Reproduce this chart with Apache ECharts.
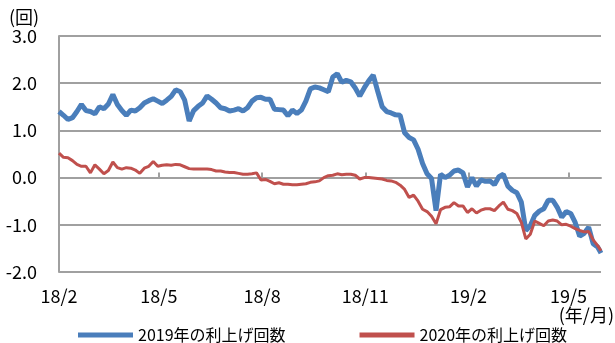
<!DOCTYPE html>
<html><head><meta charset="utf-8">
<script src="https://cdn.jsdelivr.net/npm/echarts@6/dist/echarts.min.js"></script>
<style>html,body{margin:0;padding:0;background:#fff}#c{width:615px;height:343px}</style>
</head><body><div id="c"></div>
<script>
const dates = [
'2018-02-01','2018-02-05','2018-02-09','2018-02-13','2018-02-17','2018-02-21','2018-02-25','2018-03-01','2018-03-05','2018-03-09',
'2018-03-13','2018-03-17','2018-03-21','2018-03-25','2018-03-29','2018-04-02','2018-04-06','2018-04-10','2018-04-14','2018-04-18',
'2018-04-22','2018-04-26','2018-04-30','2018-05-04','2018-05-08','2018-05-12','2018-05-16','2018-05-20','2018-05-24','2018-05-28',
'2018-06-01','2018-06-05','2018-06-09','2018-06-13','2018-06-17','2018-06-21','2018-06-25','2018-06-29','2018-07-03','2018-07-07',
'2018-07-11','2018-07-15','2018-07-19','2018-07-23','2018-07-27','2018-07-31','2018-08-04','2018-08-08','2018-08-12','2018-08-16',
'2018-08-20','2018-08-24','2018-08-28','2018-09-01','2018-09-05','2018-09-09','2018-09-13','2018-09-17','2018-09-21','2018-09-25',
'2018-09-29','2018-10-03','2018-10-07','2018-10-11','2018-10-15','2018-10-19','2018-10-23','2018-10-27','2018-10-31','2018-11-04',
'2018-11-08','2018-11-12','2018-11-16','2018-11-20','2018-11-24','2018-11-28','2018-12-02','2018-12-06','2018-12-10','2018-12-14',
'2018-12-18','2018-12-22','2018-12-26','2018-12-30','2019-01-03','2019-01-07','2019-01-11','2019-01-15','2019-01-19','2019-01-23',
'2019-01-27','2019-01-31','2019-02-04','2019-02-08','2019-02-12','2019-02-16','2019-02-20','2019-02-24','2019-02-28','2019-03-04',
'2019-03-08','2019-03-12','2019-03-16','2019-03-20','2019-03-24','2019-03-28','2019-04-01','2019-04-05','2019-04-09','2019-04-13',
'2019-04-17','2019-04-21','2019-04-25','2019-04-29','2019-05-03','2019-05-07','2019-05-11','2019-05-15','2019-05-19','2019-05-23',
'2019-05-27','2019-05-30'
];
const hikes2019 = [
1.40,1.32,1.23,1.27,1.40,1.55,1.42,1.40,1.35,1.50,
1.46,1.56,1.76,1.55,1.42,1.32,1.43,1.41,1.48,1.58,
1.63,1.67,1.62,1.57,1.64,1.72,1.86,1.82,1.64,1.20,
1.42,1.51,1.58,1.73,1.66,1.58,1.48,1.46,1.41,1.43,
1.46,1.41,1.48,1.62,1.69,1.70,1.66,1.66,1.45,1.44,
1.43,1.31,1.43,1.36,1.43,1.62,1.88,1.92,1.90,1.86,
1.82,2.13,2.20,2.02,2.06,2.03,1.90,1.73,1.90,2.05,
2.17,1.83,1.50,1.40,1.37,1.33,1.32,0.95,0.85,0.80,
0.60,0.30,0.08,-0.02,-0.70,0.07,0.00,0.05,0.14,0.16,
0.10,-0.20,0.00,-0.18,-0.05,-0.08,-0.07,-0.15,0.02,0.07,
-0.18,-0.27,-0.32,-0.52,-1.12,-1.02,-0.80,-0.71,-0.66,-0.48,
-0.48,-0.63,-0.84,-0.72,-0.76,-0.95,-1.24,-1.18,-1.05,-1.40,
-1.47,-1.60
];
const hikes2020 = [
0.52,0.43,0.42,0.36,0.28,0.24,0.24,0.10,0.27,0.18,
0.08,0.15,0.33,0.21,0.18,0.21,0.20,0.16,0.09,0.20,
0.24,0.34,0.24,0.26,0.27,0.26,0.28,0.27,0.23,0.19,
0.18,0.18,0.18,0.18,0.17,0.14,0.14,0.12,0.11,0.11,
0.09,0.07,0.07,0.08,0.10,-0.05,-0.04,-0.08,-0.13,-0.11,
-0.14,-0.14,-0.15,-0.15,-0.14,-0.13,-0.10,-0.09,-0.07,0.00,
0.04,0.05,0.08,0.06,0.07,0.07,0.05,-0.03,0.00,0.00,
-0.01,-0.02,-0.03,-0.06,-0.07,-0.10,-0.16,-0.25,-0.42,-0.37,
-0.50,-0.67,-0.72,-0.82,-0.98,-0.68,-0.63,-0.62,-0.53,-0.60,
-0.60,-0.74,-0.66,-0.75,-0.69,-0.66,-0.66,-0.70,-0.60,-0.52,
-0.67,-0.70,-0.76,-0.95,-1.30,-1.20,-0.92,-0.97,-1.02,-0.92,
-0.90,-0.92,-1.00,-0.99,-1.03,-1.08,-1.12,-1.15,-1.14,-1.32,
-1.44,-1.55
];
const seriesNames = ['2019年の利上げ回数','2020年の利上げ回数'];
const monthTicks = ['2018-02-01','2018-05-01','2018-08-01','2018-11-01','2019-02-01','2019-05-01'];
const xRange = ['2018-02-01','2019-05-30'];
const yRange = [-2, 3];

const FONT = '"Noto Sans CJK JP", "Noto Sans", sans-serif';
const GRID_C = '#a0a0a0';
const BLUE = '#4a7ebb', RED = '#c0504d';
const ts = s => { const p = s.split('-').map(Number); return Date.UTC(p[0], p[1] - 1, p[2]); };
const tickTs = monthTicks.map(ts);
const fmt = v => { const d = new Date(v); return String(d.getUTCFullYear()).slice(2) + '/' + (d.getUTCMonth() + 1); };

const chart = echarts.init(document.getElementById('c'), null, {renderer: 'canvas'});
chart.setOption({
  animation: false,
  textStyle: {fontFamily: FONT},
  grid: {left: 59, right: 14, top: 36, bottom: 71, containLabel: false},
  xAxis: [{
    type: 'value', min: ts(xRange[0]), max: ts(xRange[1]), scale: true,
    axisLine: {show: true, onZero: true, lineStyle: {color: GRID_C, width: 2}},
    axisTick: {show: true, inside: true, length: 5, customValues: tickTs, lineStyle: {color: GRID_C, width: 2}},
    axisLabel: {show: false},
    splitLine: {show: false}
  }, {
    type: 'value', min: ts(xRange[0]), max: ts(xRange[1]), scale: true, position: 'bottom',
    axisLine: {show: false, onZero: false},
    axisTick: {show: false},
    splitLine: {show: false},
    axisLabel: {customValues: tickTs, formatter: fmt, margin: 15, fontSize: 18, color: '#000', fontFamily: FONT}
  }],
  yAxis: {
    type: 'value', min: yRange[0], max: yRange[1], interval: 1,
    axisLine: {show: true, onZero: false, lineStyle: {color: GRID_C, width: 2}},
    axisTick: {show: false},
    splitLine: {show: true, lineStyle: {color: GRID_C, width: 2}},
    axisLabel: {formatter: v => v.toFixed(1), margin: 22, fontSize: 18, color: '#000', fontFamily: FONT}
  },
  legend: {
    left: 73, top: 322, width: 540, itemGap: 74, itemWidth: 55, itemHeight: 5,
    textStyle: {fontSize: 16, color: '#000', fontFamily: FONT},
    data: [{name: seriesNames[0], icon: 'rect'}, {name: seriesNames[1], icon: 'rect'}]
  },
  graphic: [
    {type: 'text', left: 9, top: 8, style: {text: '(回)', font: '18px ' + FONT, fill: '#000'}},
    {type: 'text', right: 1, top: 306, style: {text: '(年/月)', font: '18px ' + FONT, fill: '#000'}}
  ],
  series: [{
    name: seriesNames[0], type: 'line', xAxisIndex: 0, showSymbol: false, symbol: 'none',
    lineStyle: {color: BLUE, width: 5}, itemStyle: {color: BLUE},
    data: dates.map((d, i) => [ts(d), hikes2019[i]])
  }, {
    name: seriesNames[1], type: 'line', xAxisIndex: 0, showSymbol: false, symbol: 'none',
    lineStyle: {color: RED, width: 3}, itemStyle: {color: RED},
    data: dates.map((d, i) => [ts(d), hikes2020[i]])
  }]
});
</script></body></html>
